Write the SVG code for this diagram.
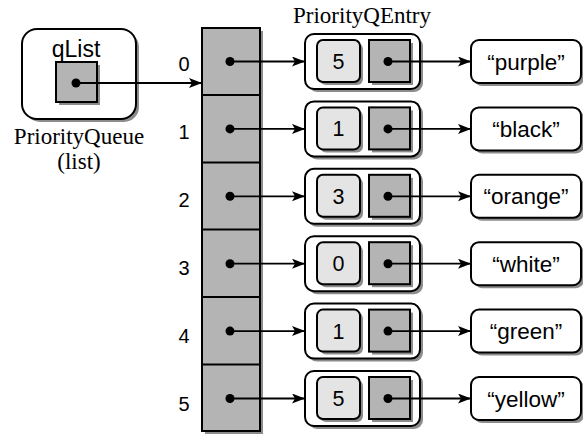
<svg xmlns="http://www.w3.org/2000/svg" width="583" height="434" viewBox="0 0 583 434">
<style>
.sh{fill:#8c8c8c;stroke:none}
.box{fill:#ffffff;stroke:#000;stroke-width:2}
.dark{fill:#b4b4b4;stroke:#000;stroke-width:2}
.light{fill:#e4e4e4;stroke:#000;stroke-width:2}
.dot{fill:#000}
.sans{font-family:"Liberation Sans",Arial,sans-serif;fill:#000}
.serif{font-family:"Liberation Serif","Times New Roman",serif;fill:#000;font-size:23px}
.idx{font-size:20px;text-anchor:middle}
.str{font-size:22.5px;text-anchor:middle}
.num{font-size:21.5px;text-anchor:middle}
.ln{stroke:#000;stroke-width:1.8;fill:none;marker-end:url(#ah)}
</style>
<defs>
<marker id="ah" markerUnits="userSpaceOnUse" markerWidth="14" markerHeight="12" refX="13" refY="5" orient="auto">
<path d="M0,0 L13,5 L0,10 L3,5 z" fill="#000"/>
</marker>
<g id="entryShape">
<rect class="sh" x="308" y="37" width="115" height="55" rx="9"/>
<rect class="box" x="305" y="34" width="115" height="55" rx="9"/>
<rect class="sh" x="320" y="43" width="43" height="42" rx="6"/>
<rect class="light" x="317" y="40" width="43" height="42" rx="6"/>
<rect class="sh" x="372" y="43" width="41" height="42"/>
<rect class="dark" x="369" y="40" width="41" height="42"/>
<circle class="dot" cx="388" cy="61.5" r="4.5"/>
<rect class="sh" x="474" y="43" width="110" height="43" rx="8"/>
<rect class="box" x="471" y="40" width="110" height="43" rx="8"/>
</g>
</defs>

<g id="priorityQueue">
<rect class="sh" x="25" y="32" width="114" height="90" rx="15"/>
<rect class="box" x="22" y="29" width="114" height="90" rx="15"/>
<text class="sans" x="76" y="57" font-size="23" text-anchor="middle">qList</text>
<rect class="sh" x="59" y="65" width="41" height="40"/>
<rect class="dark" x="56" y="62" width="41" height="40"/>
<circle class="dot" cx="76" cy="83" r="4.5"/>
<text class="serif" x="79" y="144" text-anchor="middle">PriorityQueue</text>
<text class="serif" x="79" y="169" text-anchor="middle">(list)</text>
</g>

<g id="array">
<rect class="sh" x="205" y="31" width="58" height="403"/>
<rect class="dark" x="202" y="28" width="58" height="403"/>
<g stroke="#000" stroke-width="2">
<line x1="202" y1="95" x2="260" y2="95"/>
<line x1="202" y1="162.5" x2="260" y2="162.5"/>
<line x1="202" y1="229.5" x2="260" y2="229.5"/>
<line x1="202" y1="297" x2="260" y2="297"/>
<line x1="202" y1="364.5" x2="260" y2="364.5"/>
</g>
<g class="dot">
<circle cx="230" cy="61.5" r="4.5"/>
<circle cx="230" cy="128.9" r="4.5"/>
<circle cx="230" cy="196.3" r="4.5"/>
<circle cx="230" cy="263.7" r="4.5"/>
<circle cx="230" cy="331.1" r="4.5"/>
<circle cx="230" cy="398.5" r="4.5"/>
</g>
<g class="sans idx">
<text x="184" y="70.5">0</text>
<text x="184" y="138.5">1</text>
<text x="184" y="207">2</text>
<text x="184" y="275">3</text>
<text x="184" y="343">4</text>
<text x="184" y="411">5</text>
</g>
</g>

<text class="serif" x="362" y="23" text-anchor="middle">PriorityQEntry</text>

<g id="entry0"><use href="#entryShape"/><text class="sans num" x="338.5" y="69">5</text><text class="sans str" x="526" y="69.5">“purple”</text></g>
<g id="entry1" transform="translate(0,67.4)"><use href="#entryShape"/><text class="sans num" x="338.5" y="69">1</text><text class="sans str" x="526" y="69.5">“black”</text></g>
<g id="entry2" transform="translate(0,134.8)"><use href="#entryShape"/><text class="sans num" x="338.5" y="69">3</text><text class="sans str" x="526" y="69.5">“orange”</text></g>
<g id="entry3" transform="translate(0,202.2)"><use href="#entryShape"/><text class="sans num" x="338.5" y="69">0</text><text class="sans str" x="526" y="69.5">“white”</text></g>
<g id="entry4" transform="translate(0,269.6)"><use href="#entryShape"/><text class="sans num" x="338.5" y="69">1</text><text class="sans str" x="526" y="69.5">“green”</text></g>
<g id="entry5" transform="translate(0,337)"><use href="#entryShape"/><text class="sans num" x="338.5" y="69">5</text><text class="sans str" x="526" y="69.5">“yellow”</text></g>

<g id="connectors">
<line class="ln" x1="76" y1="83" x2="202" y2="83"/>
<line class="ln" x1="230" y1="61.5" x2="305" y2="61.5"/>
<line class="ln" x1="230" y1="128.9" x2="305" y2="128.9"/>
<line class="ln" x1="230" y1="196.3" x2="305" y2="196.3"/>
<line class="ln" x1="230" y1="263.7" x2="305" y2="263.7"/>
<line class="ln" x1="230" y1="331.1" x2="305" y2="331.1"/>
<line class="ln" x1="230" y1="398.5" x2="305" y2="398.5"/>
<line class="ln" x1="388" y1="61.5" x2="471" y2="61.5"/>
<line class="ln" x1="388" y1="128.9" x2="471" y2="128.9"/>
<line class="ln" x1="388" y1="196.3" x2="471" y2="196.3"/>
<line class="ln" x1="388" y1="263.7" x2="471" y2="263.7"/>
<line class="ln" x1="388" y1="331.1" x2="471" y2="331.1"/>
<line class="ln" x1="388" y1="398.5" x2="471" y2="398.5"/>
</g>
</svg>
